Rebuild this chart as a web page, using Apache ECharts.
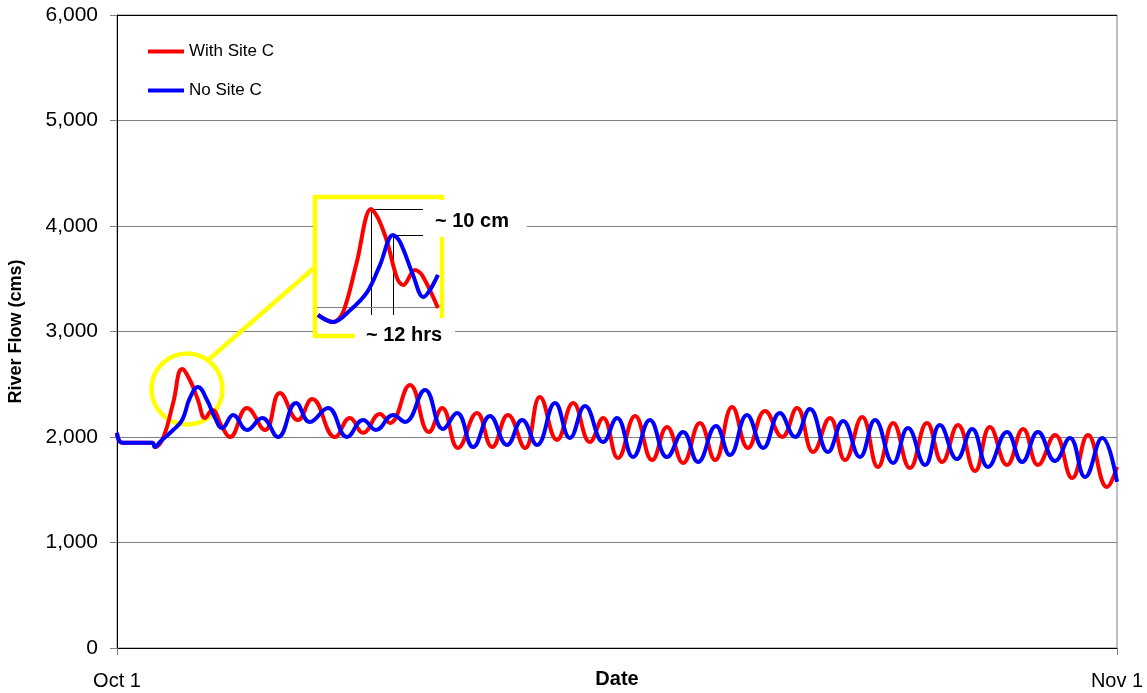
<!DOCTYPE html>
<html><head><meta charset="utf-8">
<script src="https://cdn.jsdelivr.net/npm/echarts@6/dist/echarts.min.js"></script>
<style>html,body{margin:0;padding:0;background:#fff}#c{width:1147px;height:693px}</style>
</head><body><div id="c"></div>
<script>
// ---------- data ----------
const seriesNames = ['With Site C', 'No Site C'];
const xTickLabels = ['Oct 1', 'Nov 1'];      // at day 0 and day 31
const xAxisTitle = 'Date';
const yAxisTitle = 'River Flow (cms)';
const yMin = 0, yMax = 6000, yStep = 1000;
// [day since Oct 1, flow cms]
const withSiteC = [
  [0,2040],[0.16,1945],[1.09,1945],[1.18,1905],[1.43,1991],[1.74,2322],[2.02,2645],[2.26,2540],[2.51,2351],
  [2.73,2180],[2.95,2256],[3.26,2095],[3.50,2000],[4.03,2275],[4.59,2066],[5.05,2417],[5.61,2161],[6.05,2360],
  [6.76,2000],[7.22,2180],[7.63,2040],[8.15,2218],[8.46,2133],[9.08,2493],[9.67,2047],[10.08,2275],[10.57,1896],
  [11.16,2228],[11.63,1905],[12.12,2209],[12.65,1896],[13.11,2379],[13.64,1972],[14.14,2322],[14.66,1953],
  [15.07,2180],[15.53,1801],[16.06,2199],[16.59,1782],[17.05,2095],[17.55,1754],[18.07,2133],[18.54,1782],
  [19.07,2284],[19.56,1896],[20.09,2247],[20.62,2000],[21.08,2275],[21.58,1858],[22.10,2180],[22.57,1782],
  [23.10,2190],[23.59,1716],[24.06,2133],[24.58,1706],[25.11,2133],[25.58,1763],[26.07,2114],[26.60,1678],
  [27.06,2095],[27.59,1735],[28.09,2076],[28.55,1735],[29.08,2019],[29.61,1611],[30.10,2019],[30.69,1526],[31,1716]
];
const noSiteC = [
  [0,2040],[0.16,1945],[1.09,1945],[1.18,1905],[1.33,1953],[1.74,2066],[2.02,2161],[2.26,2370],[2.51,2474],
  [2.79,2351],[3.04,2180],[3.26,2085],[3.60,2209],[4.03,2066],[4.50,2180],[4.99,2000],[5.55,2322],[5.98,2142],
  [6.54,2275],[7.13,2000],[7.63,2161],[8.03,2066],[8.56,2209],[8.93,2142],[9.55,2446],[10.11,2076],[10.54,2228],
  [11.04,1905],[11.56,2199],[12.09,1924],[12.56,2161],[13.02,1924],[13.58,2322],[14.04,1991],[14.51,2294],
  [15.07,1953],[15.50,2180],[16.00,1810],[16.52,2161],[17.05,1810],[17.55,2047],[18.01,1763],[18.57,2104],
  [19.00,1829],[19.53,2209],[20.03,1896],[20.55,2228],[21.02,2000],[21.48,2265],[22.04,1858],[22.51,2152],
  [23.03,1810],[23.50,2161],[24.06,1754],[24.52,2085],[25.05,1735],[25.51,2114],[26.04,1791],[26.51,2076],
  [27.00,1716],[27.59,2047],[28.06,1763],[28.55,2047],[29.08,1773],[29.54,1991],[30.01,1621],[30.54,1991],[31,1574]
];
// inset (zoom of first flood peak): [hours, cm above base]
const insetWith = [[0.5,-2.8],[8.7,-5.5],[14.2,-1.7],[21.5,17],[29.4,38.0],[33.2,34.5],[38.2,25.3],[43.6,11.4],[46.9,8.7],[53.4,14.5],[57.2,12.6],[65.9,-0.1]];
const insetNo   = [[0.5,-2.8],[8.7,-5.5],[18,-1],[27.3,6.0],[34.3,16.4],[41.4,28.0],[45.2,25.3],[52.3,12.6],[57.8,4.1],[65.9,12.6]];
const annotationTexts = ['~ 10 cm', '~ 12 hrs'];
const circleCenter = [2.17, 2455];   // highlighted peak (day, cms)
// ---------- chart ----------
const FONT = '"Liberation Sans", Arial, sans-serif';
const chart = echarts.init(document.getElementById('c'));
function peakOf(arr){ return arr.reduce((a,b)=> b[1]>a[1]?b:a); }
const pW = peakOf(insetWith), pN = peakOf(insetNo);
const guideEndX = 57.8, guideBottom = -2.8;
const lineStyleBlack = {color:'#000', width:1, type:'solid'};
function guides(p){
  return [
    [{coord:[p[0],p[1]]},{coord:[p[0],guideBottom]}],
    [{coord:[p[0],p[1]]},{coord:[guideEndX,p[1]]}]
  ];
}
const splitColors = [];
for (let v = yMin; v <= yMax; v += yStep) splitColors.push(v === yMax ? '#000' : '#808080');

chart.setOption({
  animation: false,
  backgroundColor: '#fff',
  textStyle: {fontFamily: FONT},
  grid: [
    {left:117, right:30, top:15, bottom:45, show:true, borderColor:'#808080', borderWidth:1,
      containLabel:false, outerBoundsMode:'none'},
    {left:317, top:199, width:123, height:135, containLabel:false, outerBoundsMode:'none'}
  ],
  legend: {
    data: seriesNames.map(n => ({name:n, icon:'rect'})),
    orient: 'vertical', left: 143, top: 38, itemWidth: 36, itemHeight: 4, itemGap: 22,
    textStyle: {fontSize: 17, color:'#000', fontFamily: FONT}
  },
  xAxis: [{
    type:'value', gridIndex:0, min:0, max:31, interval:31,
    name: xAxisTitle, nameLocation:'middle', nameGap:21, nameMoveOverlap:false,
    nameTextStyle:{fontSize:20, fontWeight:'bold', color:'#000', fontFamily:FONT},
    axisLine:{show:true, lineStyle:{color:'#000', width:1}},
    axisTick:{show:true, length:7, lineStyle:{color:'#808080'}},
    axisLabel:{fontSize:20, color:'#000', margin:23, fontFamily:FONT,
      formatter: v => v === 0 ? xTickLabels[0] : (v === 31 ? xTickLabels[1] : '')},
    splitLine:{show:false}
  },{
    type:'value', gridIndex:1, min:0, max:67, show:false
  }],
  yAxis: [{
    type:'value', gridIndex:0, min:yMin, max:yMax, interval:yStep,
    name: yAxisTitle, nameLocation:'middle', nameGap:92, nameRotate:90, nameMoveOverlap:false,
    nameTextStyle:{fontSize:18, fontWeight:'bold', color:'#000', fontFamily:FONT},
    axisLine:{show:true, lineStyle:{color:'#000', width:1}},
    axisTick:{show:true, length:7, lineStyle:{color:'#808080'}},
    axisLabel:{fontSize:21, color:'#000', margin:19, fontFamily:FONT,
      formatter: v => v.toLocaleString('en-US')},
    splitLine:{show:true, lineStyle:{color:splitColors, width:1}}
  },{
    type:'value', gridIndex:1, min:-10.1, max:41.8, show:false
  }],
  series: [
    {name:seriesNames[0], type:'line', data:withSiteC, smooth:0.45, symbol:'none',
      lineStyle:{color:'#ff0000', width:4}, itemStyle:{color:'#ff0000'}},
    {name:seriesNames[1], type:'line', data:noSiteC, smooth:0.45, symbol:'none',
      lineStyle:{color:'#0000ff', width:4}, itemStyle:{color:'#0000ff'}},
    {name:'insetWith', type:'line', xAxisIndex:1, yAxisIndex:1, data:insetWith, smooth:0.35, symbol:'none',
      lineStyle:{color:'#ff0000', width:4}, z:5,
      markLine:{silent:true, symbol:'none', label:{show:false}, lineStyle:lineStyleBlack,
        data: guides(pW).concat([[{coord:[0,0], lineStyle:{color:'#808080'}},{coord:[66,0]}]])}},
    {name:'insetNo', type:'line', xAxisIndex:1, yAxisIndex:1, data:insetNo, smooth:0.35, symbol:'none',
      lineStyle:{color:'#0000ff', width:4}, z:6,
      markLine:{silent:true, symbol:'none', label:{show:false}, lineStyle:lineStyleBlack, data: guides(pN)}}
  ]
});

// annotation graphics positioned from data
const c = chart.convertToPixel({gridIndex:0}, circleCenter);
const boxL = 315, boxT = 197, boxR = 442, boxB = 336;
chart.setOption({
  graphic: [
    {type:'rect', z:1, shape:{x:boxL, y:boxT, width:boxR-boxL, height:boxB-boxT},
      style:{fill:'#fff', stroke:'#ffff00', lineWidth:4.5}},
    {type:'circle', z:1, shape:{cx:c[0], cy:c[1], r:35.5}, style:{fill:null, stroke:'#ffff00', lineWidth:4.5}},
    {type:'line', z:1, shape:{x1:c[0]+20, y1:c[1]-28, x2:boxL, y2:267}, style:{stroke:'#ffff00', lineWidth:4.5}},
    {type:'rect', z:10, shape:{x:430, y:200, width:97, height:37}, style:{fill:'#fff'}},
    {type:'text', z:11, x:435, y:221, style:{text:annotationTexts[0], font:'bold 20px ' + FONT, fill:'#000', verticalAlign:'middle', align:'left'}},
    {type:'rect', z:10, shape:{x:355, y:318, width:100, height:28}, style:{fill:'#fff'}},
    {type:'text', z:11, x:404, y:335, style:{text:annotationTexts[1], font:'bold 20px ' + FONT, fill:'#000', verticalAlign:'middle', align:'center'}}
  ]
});
</script></body></html>
